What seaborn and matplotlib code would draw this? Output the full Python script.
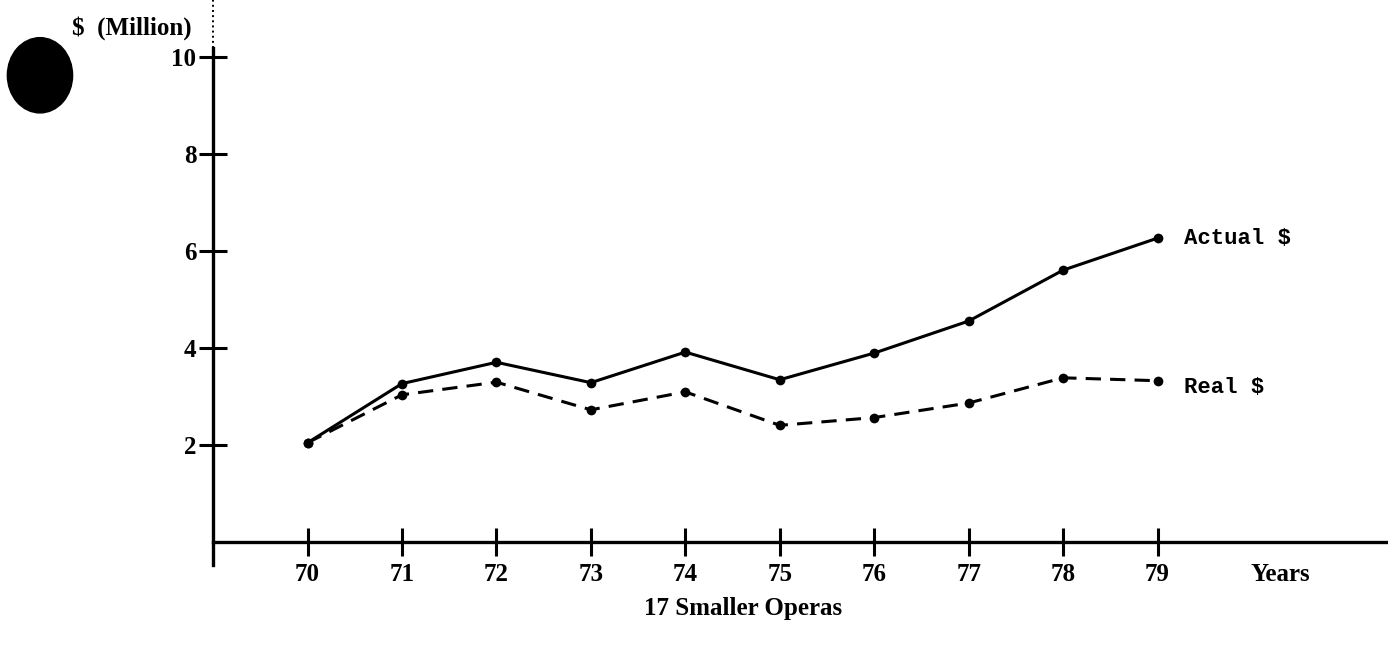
import pandas as pd
import numpy as np
import matplotlib
matplotlib.use("Agg")
import matplotlib.pyplot as plt
from matplotlib.patches import Ellipse
import seaborn as sns

# values ($ million)
years = [70, 71, 72, 73, 74, 75, 76, 77, 78, 79]
actual = [2.05, 3.27, 3.71, 3.29, 3.92, 3.35, 3.90, 4.56, 5.61, 6.27]
real = [2.05, 3.04, 3.30, 2.73, 3.10, 2.41, 2.57, 2.87, 3.39, 3.33]
series_names = ["Actual $", "Real $"]
y_ticks = [2, 4, 6, 8, 10]

df = pd.concat([
    pd.DataFrame({"year": years, "value": actual, "series": series_names[0]}),
    pd.DataFrame({"year": years, "value": real, "series": series_names[1]}),
])

sns.set_theme(style="white")
plt.rcParams["font.family"] = ["Liberation Serif", "DejaVu Serif"]
plt.rcParams["text.color"] = "black"

fig = plt.figure(figsize=(13.88, 6.49), dpi=100)
ax = fig.add_axes([0.1535, 0.1294, 0.8465, 0.8706])

sns.lineplot(data=df, x="year", y="value", style="series",
             dashes={"Actual $": "", "Real $": (5, 3)},
             markers={"Actual $": "o", "Real $": "o"},
             color="black", linewidth=2.2, markersize=7, markeredgewidth=0,
             legend=False, ax=ax)

ax.set_xlim(69, 81.44)
ax.set_ylim(-0.47, 11.18)

# axes styled like the hand-drawn original
for side in ["top", "right"]:
    ax.spines[side].set_visible(False)
ax.spines["bottom"].set_position(("data", 0))
ax.spines["left"].set_bounds(-0.47, 10.2)
for side in ["bottom", "left"]:
    ax.spines[side].set_linewidth(2.4)
    ax.spines[side].set_color("black")
ax.plot([69, 69], [10.2, 11.18], color="black", lw=1.4, ls=":", clip_on=False)

ax.set_xticks(years)
ax.set_xticklabels([str(y) for y in years])
ax.set_yticks(y_ticks)
ax.set_yticklabels([str(v) for v in y_ticks])
ax.tick_params(axis="both", direction="inout", length=20, width=2.2,
               color="black", labelsize=18, labelcolor="black",
               bottom=True, left=True)
ax.tick_params(axis="x", pad=5)
ax.tick_params(axis="y", pad=2)
for lbl in ax.get_xticklabels() + ax.get_yticklabels():
    lbl.set_fontweight("bold")

ax.set_xlabel("")
ax.set_ylabel("")
ax.grid(False)

ax.text(80.3, -0.66, "Years", ha="center", va="center", fontsize=18,
        fontweight="bold", clip_on=False)
ax.text(79.28, actual[-1], series_names[0], ha="left", va="center",
        fontsize=16, family="Liberation Mono", fontweight="bold")
ax.text(79.28, real[-1] - 0.15, series_names[1], ha="left", va="center",
        fontsize=16, family="Liberation Mono", fontweight="bold")

fig.text(0.535, 0.062, "17 Smaller Operas", ha="center", va="center",
         fontsize=18, fontweight="bold")
fig.text(0.052, 0.957, "$  (Million)", ha="left", va="center",
         fontsize=18, fontweight="bold")

# hole-punch blot from the scan
fig.patches.append(Ellipse((0.0288, 0.884), 0.047, 0.116, color="black",
                           transform=fig.transFigure))

fig.savefig("out.png", dpi=100)
